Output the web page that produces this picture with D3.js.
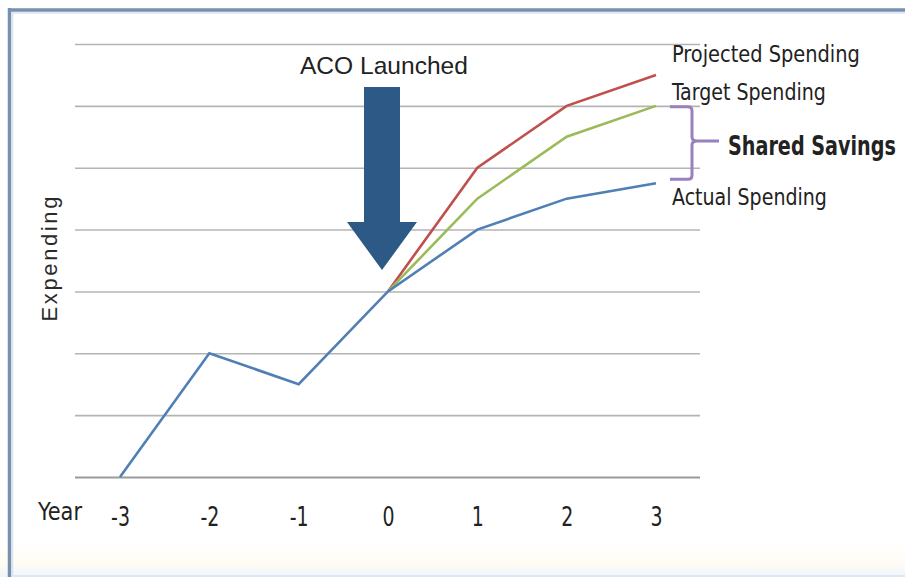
<!DOCTYPE html>
<html>
<head>
<meta charset="utf-8">
<script src="https://cdn.jsdelivr.net/npm/d3@7"></script>
<style>
  html, body { margin: 0; padding: 0; background: #fff; }
  svg { display: block; }
</style>
</head>
<body>
<svg id="chart" width="905" height="577"></svg>
<script>
// Years on the x axis
const years = [-3, -2, -1, 0, 1, 2, 3];
const yearLabels = ["-3", "-2", "-1", "0", "1", "2", "3"];

// Spending levels (gridline units)
const actualYears = [-3, -2, -1, 0, 1, 2, 3];
const actualValues = [0, 2, 1.5, 3, 4, 4.5, 4.75];
const projectedYears = [0, 1, 2, 3];
const projectedValues = [3, 5, 6, 6.5];
const targetYears = [0, 1, 2, 3];
const targetValues = [3, 4.5, 5.5, 6];

const gridLevels = [0, 1, 2, 3, 4, 5, 6, 7];

const svg = d3.select("#chart");
const W = 905, H = 577;

// Place a text at (x, y) and squeeze it horizontally to the given width
function fittedText(parent, x, y, width, text, font, size, weight) {
  const t = parent.append("text")
    .attr("font-family", font).attr("font-size", size)
    .attr("font-weight", weight || "normal")
    .attr("fill", "#222").text(text);
  const natural = t.node().getComputedTextLength();
  const sx = width / natural;
  t.attr("transform", `translate(${x},${y}) scale(${sx},1)`);
  return t;
}

// Soft background tint along the bottom edge
const defs = svg.append("defs");
const bg = defs.append("linearGradient").attr("id", "bgfade")
  .attr("x1", 0).attr("x2", 0).attr("y1", 0).attr("y2", 1);
bg.append("stop").attr("offset", "0").attr("stop-color", "#ffffff");
bg.append("stop").attr("offset", "0.94").attr("stop-color", "#ffffff");
bg.append("stop").attr("offset", "0.975").attr("stop-color", "#fffcf4");
bg.append("stop").attr("offset", "1").attr("stop-color", "#f0f5fb");
svg.append("rect").attr("width", W).attr("height", H).attr("fill", "url(#bgfade)");

// Frame
svg.append("line").attr("x1", 8).attr("x2", W).attr("y1", 10).attr("y2", 10)
  .attr("stroke", "#7890ad").attr("stroke-width", 3.5);
svg.append("line").attr("x1", 9.5).attr("x2", 9.5).attr("y1", 8).attr("y2", H)
  .attr("stroke", "#7890ad").attr("stroke-width", 3.5);
svg.append("line").attr("x1", 12).attr("x2", W).attr("y1", 13).attr("y2", 13)
  .attr("stroke", "#d6e4f2").attr("stroke-width", 1.5);
svg.append("line").attr("x1", 12.5).attr("x2", 12.5).attr("y1", 13).attr("y2", H)
  .attr("stroke", "#d6e4f2").attr("stroke-width", 1.5);
svg.append("line").attr("x1", 12).attr("x2", W).attr("y1", 576).attr("y2", 576)
  .attr("stroke", "#dce8f6").attr("stroke-width", 2);

const x = d3.scaleLinear().domain([-3, 3]).range([120, 656]);
const y = d3.scaleLinear().domain([0, 7]).range([477, 44]);

// Horizontal gridlines
const grid = d3.axisLeft(y).tickValues(gridLevels).tickSize(-(700 - 75)).tickFormat("");
const gg = svg.append("g").attr("transform", "translate(75,0)").call(grid);
gg.select(".domain").remove();
gg.selectAll(".tick line")
  .attr("stroke", d => d === 0 ? "#9a9a9a" : "#b4b4b4")
  .attr("stroke-width", d => d === 0 ? 2 : 1.6);

const narrowFont = "'DejaVu Sans Condensed', 'DejaVu Sans', sans-serif";

// Year axis labels
const xa = d3.axisBottom(x).tickValues(years).tickSize(0)
  .tickFormat((d, i) => yearLabels[i]);
const xg = svg.append("g").call(xa);
xg.select(".domain").remove();
xg.selectAll(".tick text")
  .attr("font-family", narrowFont)
  .attr("font-size", 27).attr("fill", "#222")
  .attr("y", 0).attr("dy", 0)
  .attr("transform", "translate(0,526) scale(0.78,1)");

fittedText(svg, 38, 520, 44, "Year", narrowFont, 24);

svg.append("text")
  .attr("transform", "translate(57,259) rotate(-90)")
  .attr("text-anchor", "middle")
  .attr("font-family", "'Liberation Sans', Arial, sans-serif")
  .attr("font-size", 22).attr("fill", "#2a2a2a")
  .attr("textLength", 125).attr("lengthAdjust", "spacing")
  .text("Expending");

// Series lines
const line = d3.line().x(d => x(d[0])).y(d => y(d[1]));
const series = [
  { xs: projectedYears, vs: projectedValues, color: "#c0504d" },
  { xs: targetYears, vs: targetValues, color: "#9bbb59" },
  { xs: actualYears, vs: actualValues, color: "#4f7fb4" }
];
series.forEach(s => {
  svg.append("path")
    .datum(s.xs.map((yr, i) => [yr, s.vs[i]]))
    .attr("d", line)
    .attr("fill", "none")
    .attr("stroke", s.color)
    .attr("stroke-width", 2.6)
    .attr("stroke-linejoin", "miter");
});

// Launch arrow pointing at year 0
const ax = x(0) - 6;
const arrow = d3.path();
arrow.moveTo(ax - 18, 87);
arrow.lineTo(ax + 18, 87);
arrow.lineTo(ax + 18, 222);
arrow.lineTo(ax + 35, 222);
arrow.lineTo(ax, 270);
arrow.lineTo(ax - 35, 222);
arrow.lineTo(ax - 18, 222);
arrow.closePath();
svg.append("path").attr("d", arrow.toString()).attr("fill", "#2d5986");

fittedText(svg, 300, 74, 168, "ACO Launched", "'Liberation Sans', Arial, sans-serif", 24);

// Series labels
const labels = [
  { text: "Projected Spending", y: 62, len: 188 },
  { text: "Target Spending", y: 100, len: 154 },
  { text: "Actual Spending", y: 205, len: 155 }
];
labels.forEach(l => fittedText(svg, 672, l.y, l.len, l.text, narrowFont, 23));

// Brace spanning target to actual
const bTop = y(6) + 1, bBot = y(4.75) - 4, bMid = (bTop + bBot) / 2 - 2;
const brace = d3.path();
brace.moveTo(670, bTop);
brace.lineTo(688, bTop);
brace.quadraticCurveTo(692, bTop, 692, bTop + 4);
brace.lineTo(692, bMid - 4);
brace.quadraticCurveTo(692, bMid, 697, bMid);
brace.lineTo(719, bMid);
brace.moveTo(697, bMid);
brace.quadraticCurveTo(692, bMid, 692, bMid + 4);
brace.lineTo(692, bBot - 4);
brace.quadraticCurveTo(692, bBot, 688, bBot);
brace.lineTo(670, bBot);
svg.append("path").attr("d", brace.toString()).attr("fill", "none")
  .attr("stroke", "#9a80bd").attr("stroke-width", 3);

fittedText(svg, 728, 155, 168, "Shared Savings", narrowFont, 26, "bold");
</script>
</body>
</html>
